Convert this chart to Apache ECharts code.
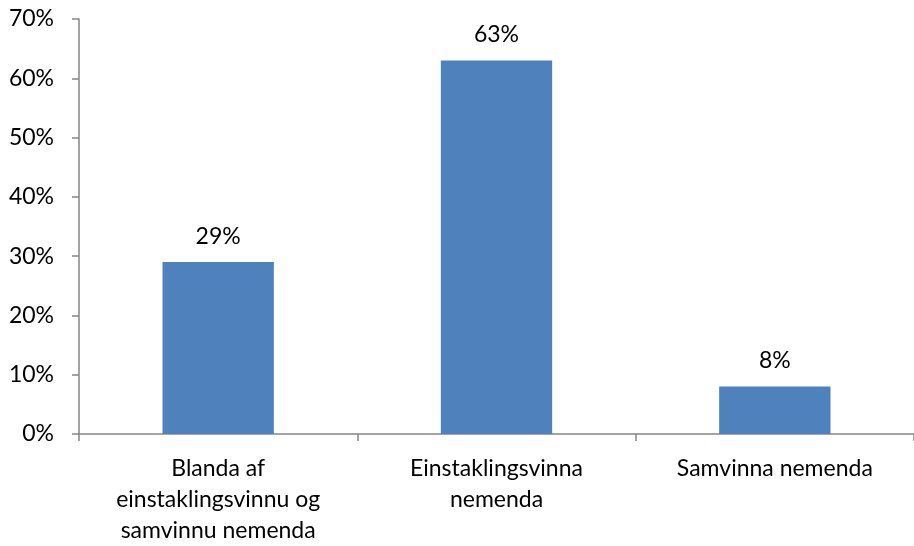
<!DOCTYPE html>
<html><head><meta charset="utf-8">
<script src="https://cdn.jsdelivr.net/npm/echarts@6/dist/echarts.min.js"></script>
<style>html,body{margin:0;padding:0;background:#fff}#c{width:914px;height:546px}</style>
</head><body><div id="c"></div>
<script>
var categories = ['Blanda af\neinstaklingsvinnu og\nsamvinnu nemenda', 'Einstaklingsvinna\nnemenda', 'Samvinna nemenda'];
var values = [29, 63, 8];
var yTicks = [0, 10, 20, 30, 40, 50, 60, 70];

var font = 'Lato';
var chart = echarts.init(document.getElementById('c'), null, {renderer: 'canvas'});
chart.setOption({
  animation: false,
  textStyle: {fontFamily: font},
  grid: {left: 79, width: 842, top: 19, height: 415, containLabel: false},
  xAxis: {
    type: 'category', data: categories,
    axisLine: {lineStyle: {color: '#868686', width: 1.5}},
    axisTick: {show: true, length: 7, lineStyle: {color: '#868686', width: 1.5}},
    axisLabel: {color: '#000', fontSize: 23, lineHeight: 31, margin: 19, fontFamily: font}
  },
  yAxis: {
    type: 'value', min: yTicks[0], max: yTicks[yTicks.length - 1], interval: 10,
    axisLine: {show: true, lineStyle: {color: '#868686', width: 1.5}},
    axisTick: {show: true, length: 7, lineStyle: {color: '#868686', width: 1.5}},
    splitLine: {show: false},
    axisLabel: {color: '#000', fontSize: 23, margin: 25, formatter: '{value}%', fontFamily: font}
  },
  series: [{
    type: 'bar', data: values, barWidth: '40%',
    itemStyle: {color: '#4F81BD'},
    label: {show: true, position: 'top', distance: 14, color: '#000', fontSize: 23, formatter: '{c}%', fontFamily: font}
  }]
});
</script></body></html>
